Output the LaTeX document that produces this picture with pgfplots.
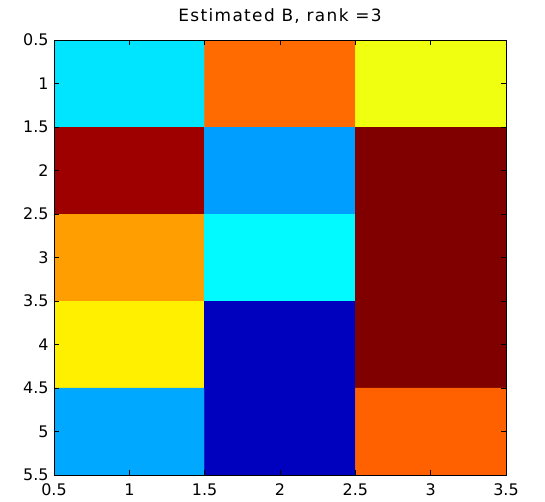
\documentclass[border=0pt]{standalone}
\usepackage{fontspec}
\setmainfont{DejaVu Sans}
\newfontfamily\titlefont[LetterSpace=8]{DejaVu Sans}
\usepackage{pgfplots}
\pgfplotsset{compat=1.18}
\begin{document}
\begin{tikzpicture}
\begin{axis}[
  scale only axis,
  width=452bp, height=435bp,
  xmin=0.5, xmax=3.5, ymin=0.5, ymax=5.5,
  y dir=reverse,
  axis on top,
  xtick={0.5,1,1.5,2,2.5,3,3.5},
  ytick={0.5,1,1.5,2,2.5,3,3.5,4,4.5,5,5.5},
  tick align=inside,
  major tick length=5bp,
  tick style={black, line width=0.5pt},
  axis line style={black, line width=0.8pt},
  xticklabel style={yshift=-5bp},
  yticklabel style={xshift=-2bp},
  /pgf/number format/assume math mode=true,
  /pgf/number format/fixed,
  ticklabel style={font=\fontsize{16}{18}\selectfont},
  title={Estimated B, rank =3},
  title style={font=\titlefont\fontsize{17}{19}\selectfont, at={(0.5,1)}, anchor=base, yshift=13bp},
  colormap/jet,
  point meta min=0, point meta max=1,
]
\addplot[matrix plot*, mesh/cols=3, point meta=explicit, shader=flat corner] table[meta=c] {
x y c
1 1 0.35
2 1 0.77
3 1 0.61
1 2 0.97
2 2 0.28
3 2 1.0
1 3 0.72
2 3 0.37
3 3 1.0
1 4 0.64
2 4 0.0625
3 4 1.0
1 5 0.29
2 5 0.0625
3 5 0.78
};
\end{axis}
\path ([shift={(-54bp,-27bp)}]current axis.south west) rectangle ([shift={(39bp,40bp)}]current axis.north east);
\end{tikzpicture}
\end{document}
